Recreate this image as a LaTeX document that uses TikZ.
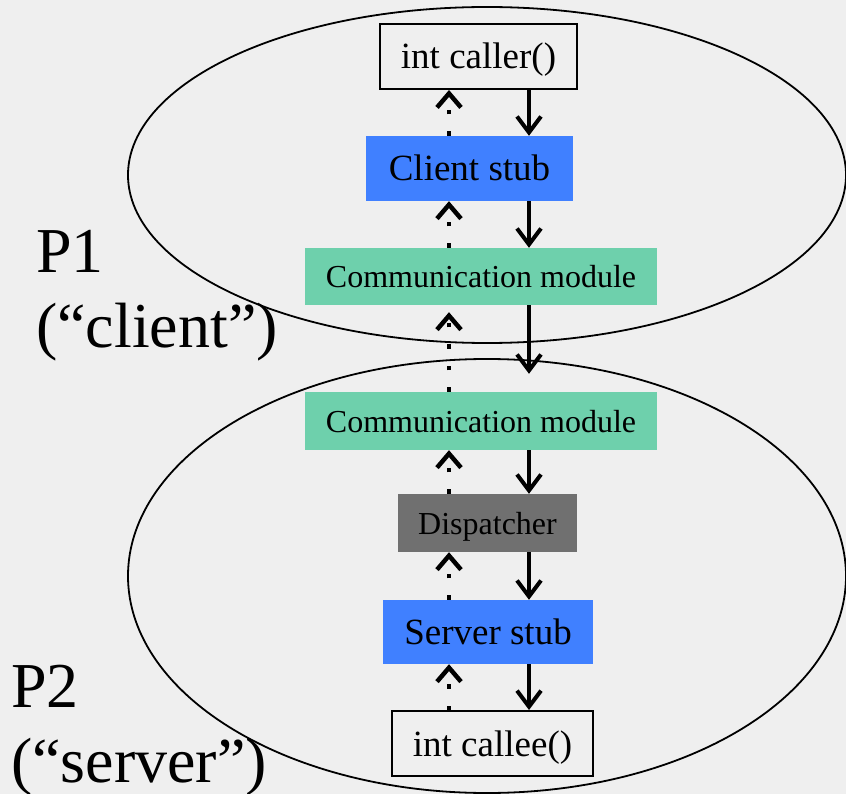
\documentclass[tikz,border=0pt]{standalone}
\usepackage{fontspec}
\setmainfont{Liberation Serif}
\usetikzlibrary{arrows.meta}
\definecolor{bgcol}{RGB}{239,239,239}
\definecolor{stubblue}{RGB}{64,128,255}
\definecolor{commgreen}{RGB}{110,208,172}
\definecolor{dispgray}{RGB}{112,112,112}
\tikzset{
  box/.style={rectangle, inner sep=0pt, text depth=0pt},
  bigbox/.style={box, text height=25pt, font=\fontsize{37}{40}\selectfont},
  smallbox/.style={box, text height=22pt, font=\fontsize{32}{36}\selectfont},
  funcbox/.style={bigbox, draw=black, line width=2pt, fill=bgcol},
  stubbox/.style={bigbox, fill=stubblue},
  commbox/.style={smallbox, fill=commgreen},
  dispbox/.style={smallbox, fill=dispgray},
  bigtext/.style={inner sep=0pt, anchor=base west, font=\fontsize{64}{74}\selectfont},
  proc/.style={draw=black, line width=1.8pt},
  callarrow/.style={line width=4pt, -{Straight Barb[length=16pt,width=24pt]}},
  retarrow/.style={line width=4.5pt, dash pattern=on 4.5pt off 17pt, -{Straight Barb[length=14pt,width=24pt]}},
}
\begin{document}
\begin{tikzpicture}[x=1pt,y=-1pt]
\fill[bgcol] (0,0) rectangle (846,794);
\useasboundingbox (0,0) rectangle (846,794);

% process ellipses
\draw[proc] (487,175) ellipse [x radius=359pt, y radius=168pt];
\draw[proc] (487,576) ellipse [x radius=359pt, y radius=217pt];

% boxes
\node[funcbox, minimum width=197pt, minimum height=65pt] (caller) at (478.5,56.5) {int caller()};
\node[stubbox, minimum width=207pt, minimum height=65pt] (client) at (469.5,168.5) {Client stub};
\node[commbox, minimum width=352pt, minimum height=57pt] (comm1) at (481,276.5) {Communication module};
\node[commbox, minimum width=352pt, minimum height=58pt] (comm2) at (481,421) {Communication module};
\node[dispbox, minimum width=179pt, minimum height=58pt] (disp) at (487.5,523) {Dispatcher};
\node[stubbox, minimum width=210pt, minimum height=64pt] (server) at (488,632) {Server stub};
\node[funcbox, minimum width=201pt, minimum height=65pt] (callee) at (492.5,743.5) {int callee()};

% labels
\node[bigtext] (p1a) at (36,273) {P1};
\node[bigtext] (p1b) at (36,347) {(“client”)};
\node[bigtext] (p2a) at (11,707) {P2};
\node[bigtext] (p2b) at (11,782) {(“server”)};

% arrow columns
\coordinate (sx) at (529,0);
\coordinate (dx) at (449,0);

% call path (down)
\draw[callarrow] (caller.south -| sx) -- (client.north -| sx);
\draw[callarrow] (client.south -| sx) -- (comm1.north -| sx);
\draw[callarrow, shorten >=18pt] (comm1.south -| sx) -- (comm2.north -| sx);
\draw[callarrow] (comm2.south -| sx) -- (disp.north -| sx);
\draw[callarrow] (disp.south -| sx) -- (server.north -| sx);
\draw[callarrow] (server.south -| sx) -- (callee.north -| sx);

% return path (up, dotted)
\draw[retarrow] (client.north -| dx) -- (caller.south -| dx);
\draw[retarrow] (comm1.north -| dx) -- (client.south -| dx);
\draw[retarrow, shorten >=7pt] (comm2.north -| dx) -- (comm1.south -| dx);
\draw[retarrow] (disp.north -| dx) -- (comm2.south -| dx);
\draw[retarrow] (server.north -| dx) -- (disp.south -| dx);
\draw[retarrow] (callee.north -| dx) -- (server.south -| dx);
\end{tikzpicture}
\end{document}
